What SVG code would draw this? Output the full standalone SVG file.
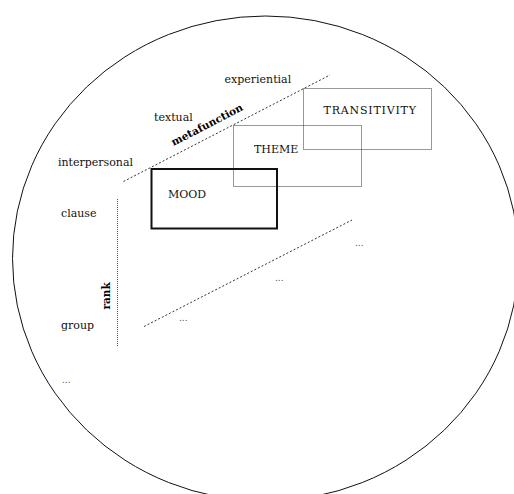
<svg xmlns="http://www.w3.org/2000/svg" width="514" height="494" viewBox="0 0 514 494">
  <style>
    text { font-family: "DejaVu Serif", "Liberation Serif", serif; font-size: 11px; fill: #111; }
    .axis { font-weight: bold; font-size: 10.5px; fill: #000; }
    .dots { font-size: 9px; fill: #555; }
    .dash { fill: none; stroke: #333; stroke-width: 1; stroke-dasharray: 2 2; }
    .rankline { fill: none; stroke: #555; stroke-width: 1; stroke-dasharray: 1 1; }
    .dotbox { fill: none; stroke: #333; stroke-width: 1; stroke-dasharray: 1 1; }
    .solidbox { fill: none; stroke: #111; stroke-width: 2; }
  </style>

  <!-- enclosing boundary -->
  <ellipse cx="265.5" cy="258.5" rx="253" ry="242.5" fill="none" stroke="#111" stroke-width="1"/>

  <!-- axes and dividers -->
  <g id="connectors">
    <line class="dash" x1="123.5" y1="181.5" x2="330" y2="75"/>
    <line class="dash" x1="144" y1="326.5" x2="352" y2="220"/>
    <line class="rankline" x1="117.5" y1="199" x2="117.5" y2="346"/>
  </g>

  <!-- metafunction labels -->
  <g id="metafunction-axis">
    <text x="224.5" y="82.5">experiential</text>
    <text x="154" y="120.5">textual</text>
    <text x="58" y="165.5">interpersonal</text>
    <text class="axis" transform="translate(173.5 146) rotate(-27.2)">metafunction</text>
  </g>

  <!-- rank labels -->
  <g id="rank-axis">
    <text x="61" y="216.5">clause</text>
    <text x="61" y="328.5">group</text>
    <text class="dots" x="62" y="382.5">...</text>
    <text class="axis" transform="translate(109.5 309.5) rotate(-90)">rank</text>
  </g>

  <!-- systems -->
  <g id="transitivity">
    <rect class="dotbox" x="303.5" y="88.5" width="128" height="61"/>
    <text x="323.5" y="114" textLength="92.5">TRANSITIVITY</text>
  </g>
  <g id="theme">
    <rect class="dotbox" x="233.5" y="125.5" width="128" height="61"/>
    <text x="254" y="152.5">THEME</text>
  </g>
  <g id="mood">
    <rect class="solidbox" x="151.5" y="169" width="125.5" height="59.5"/>
    <text x="168" y="197.5">MOOD</text>
  </g>

  <!-- continuation marks -->
  <g id="continuations">
    <text class="dots" x="179" y="321">...</text>
    <text class="dots" x="275" y="280.5">...</text>
    <text class="dots" x="355" y="245.5">...</text>
  </g>
</svg>
